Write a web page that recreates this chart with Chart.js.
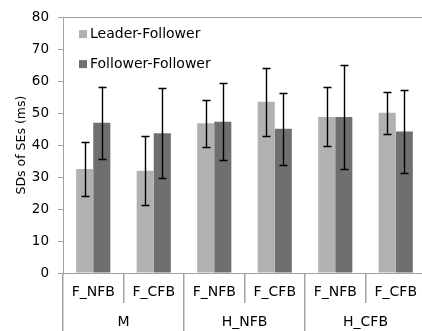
<!DOCTYPE html>
<html>
<head>
<meta charset="utf-8">
<script src="https://cdn.jsdelivr.net/npm/chart.js@4/dist/chart.umd.min.js"></script>
<style>
    html, body { margin: 0; padding: 0; background: #fff; }
    #wrap { width: 422px; height: 331px; overflow: hidden; position: relative; }
    canvas { display: block; }
</style>
</head>
<body>
<div id="wrap"><canvas id="myChart" width="427" height="331"></canvas></div>
<script>
(function () {

    // data
    let categories = ['F_NFB', 'F_CFB', 'F_NFB', 'F_CFB', 'F_NFB', 'F_CFB'];
    let groups = ['M', 'H_NFB', 'H_CFB'];
    let yTicks = [0, 10, 20, 30, 40, 50, 60, 70, 80];

    let leaderFollower = [32.5, 32.0, 46.8, 53.5, 48.8, 50.1];
    let leaderFollowerErr = [8.4, 10.7, 7.4, 10.7, 9.2, 6.5];
    let followerFollower = [47.0, 43.7, 47.3, 45.1, 48.8, 44.2];
    let followerFollowerErr = [11.3, 14.0, 12.1, 11.2, 16.3, 13.0];

    let fontName = '"DejaVu Sans", sans-serif';
    let axisGray = '#a3a3a3';

    // error bars drawn from the error arrays through the y scale
    let errorBars = {
        id: 'errorBars',
        afterDatasetsDraw: function (chart) {
            let ctx = chart.ctx;
            let yScale = chart.scales.y;
            ctx.save();
            ctx.strokeStyle = '#000';
            ctx.lineWidth = 1.4;
            chart.data.datasets.forEach(function (ds, i) {
                let meta = chart.getDatasetMeta(i);
                meta.data.forEach(function (bar, j) {
                    let v = ds.data[j];
                    let e = ds.errors[j];
                    let yT = yScale.getPixelForValue(v + e);
                    let yB = yScale.getPixelForValue(v - e);
                    let x = Math.round(bar.x) + 0.5;
                    ctx.beginPath();
                    ctx.moveTo(x, yT);
                    ctx.lineTo(x, yB);
                    ctx.moveTo(x - 4, Math.round(yT) + 0.5);
                    ctx.lineTo(x + 4, Math.round(yT) + 0.5);
                    ctx.moveTo(x - 4, Math.round(yB) + 0.5);
                    ctx.lineTo(x + 4, Math.round(yB) + 0.5);
                    ctx.stroke();
                });
            });
            ctx.restore();
        }
    };

    // top frame line and legend inside the plot
    let frameLegend = {
        id: 'frameLegend',
        afterDraw: function (chart) {
            let ctx = chart.ctx;
            let a = chart.chartArea;
            ctx.save();
            ctx.strokeStyle = axisGray;
            ctx.lineWidth = 1;
            ctx.beginPath();
            ctx.moveTo(a.left, Math.round(a.top) + 0.5);
            ctx.lineTo(a.right, Math.round(a.top) + 0.5);
            ctx.stroke();

            ctx.font = '14px ' + fontName;
            ctx.textBaseline = 'middle';
            ctx.textAlign = 'left';
            chart.data.datasets.forEach(function (ds, i) {
                let y = a.top + 17 + i * 30;
                ctx.fillStyle = ds.backgroundColor;
                ctx.fillRect(a.left + 16, y - 4, 8, 8);
                ctx.fillStyle = '#000';
                ctx.fillText(ds.label, a.left + 27, y);
            });
            ctx.restore();
        }
    };

    const ctx = document.getElementById('myChart');

    let chart = new Chart(ctx, {
        type: 'bar',
        data: {
            labels: categories,
            datasets: [
                {
                    label: 'Leader-Follower',
                    data: leaderFollower,
                    errors: leaderFollowerErr,
                    backgroundColor: '#b1b1b1',
                    borderWidth: 0,
                    barPercentage: 1,
                    categoryPercentage: 0.565
                },
                {
                    label: 'Follower-Follower',
                    data: followerFollower,
                    errors: followerFollowerErr,
                    backgroundColor: '#6f6f6f',
                    borderWidth: 0,
                    barPercentage: 1,
                    categoryPercentage: 0.565
                }
            ]
        },
        options: {
            responsive: false,
            animation: false,
            devicePixelRatio: 1,
            layout: {
                padding: { top: 16, right: 1, left: 0, bottom: 0 }
            },
            plugins: {
                legend: { display: false },
                tooltip: { enabled: false }
            },
            scales: {
                y: {
                    min: 0,
                    max: 80,
                    afterBuildTicks: function (scale) {
                        scale.ticks = yTicks.map(function (v) { return { value: v }; });
                    },
                    afterFit: function (scale) { scale.width = 63; },
                    border: { display: true, color: axisGray, width: 1 },
                    grid: {
                        drawOnChartArea: false,
                        drawTicks: true,
                        tickLength: 5,
                        color: axisGray
                    },
                    ticks: {
                        padding: 9,
                        color: '#000',
                        font: { family: fontName, size: 13.5 }
                    },
                    title: {
                        display: true,
                        text: 'SDs of SEs (ms)',
                        color: '#000',
                        font: { family: fontName, size: 12.5 },
                        padding: { top: 14, bottom: 0 }
                    }
                },
                x: {
                    type: 'category',
                    position: 'bottom',
                    weight: 0,
                    afterFit: function (scale) { scale.height = 30; },
                    border: { display: true, color: axisGray, width: 1 },
                    grid: {
                        offset: true,
                        drawOnChartArea: false,
                        drawTicks: true,
                        tickLength: 30,
                        color: axisGray,
                        lineWidth: 1.5
                    },
                    ticks: {
                        padding: -19,
                        autoSkip: false,
                        maxRotation: 0,
                        color: '#000',
                        font: { family: fontName, size: 14 }
                    }
                },
                x2: {
                    type: 'category',
                    position: 'bottom',
                    weight: 1,
                    labels: groups,
                    afterFit: function (scale) { scale.height = 28; },
                    border: { display: false },
                    grid: {
                        offset: true,
                        drawOnChartArea: false,
                        drawTicks: true,
                        tickLength: 28,
                        color: axisGray,
                        lineWidth: 1.5
                    },
                    ticks: {
                        padding: -17,
                        autoSkip: false,
                        maxRotation: 0,
                        color: '#000',
                        font: { family: fontName, size: 14 }
                    }
                }
            }
        },
        plugins: [errorBars, frameLegend]
    });

})();
</script>
</body>
</html>
